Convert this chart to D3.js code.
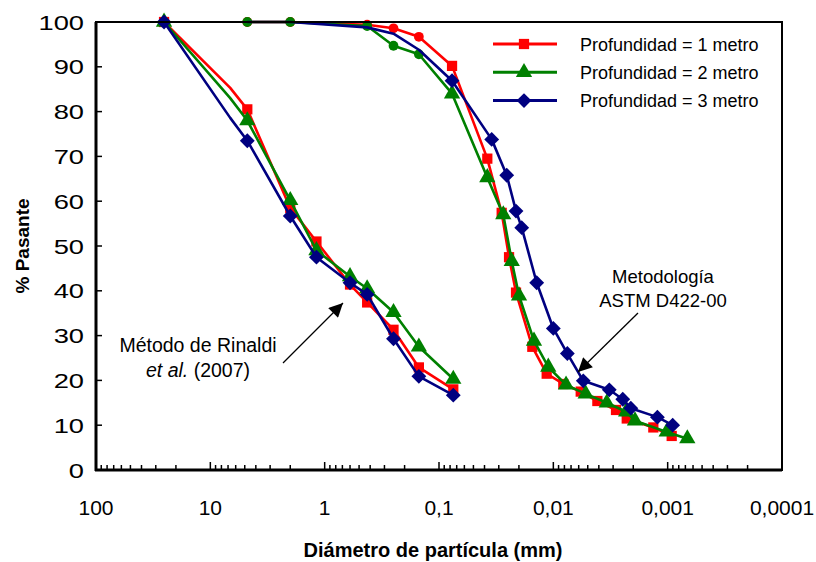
<!DOCTYPE html>
<html lang="es">
<head>
    <meta charset="utf-8">
    <style type="text/css">
        body { margin: 0; background: #fff; }
        text { font-family: Arial, "Liberation Sans", sans-serif; fill: #000; }
    </style>
</head>
<body>

<script src="https://d3js.org/d3.v7.min.js" type="text/javascript"></script>

<script type="text/javascript">
    // tick labels of the log axis (spanish decimal comma)
    var xTickValues = [100, 10, 1, 0.1, 0.01, 0.001, 0.0001];
    var xTickLabels = ["100", "10", "1", "0,1", "0,01", "0,001", "0,0001"];
    var yTickValues = [0, 10, 20, 30, 40, 50, 60, 70, 80, 90, 100];

    var seriesNames = ["Profundidad = 1 metro", "Profundidad = 2 metro", "Profundidad = 3 metro"];

    // Rinaldi et al. (2007) - sieve diameters (mm); 6.7 is a point without marker
    var rinaldiDiam  = [25.4, 6.7, 4.75, 2.0, 1.18, 0.6, 0.425, 0.25, 0.15, 0.075];
    var rinaldiShown = [true, false, true, true, true, true, true, true, true, true];
    var rinaldiP1 = [100, 85.3, 80.5, 58.5, 51.0, 41.4, 37.4, 31.3, 22.9, 18.0];
    var rinaldiP2 = [100, 83.0, 78.0, 60.2, 49.0, 43.2, 40.5, 35.2, 27.5, 20.3];
    var rinaldiP3 = [100, 78.6, 73.5, 56.7, 47.5, 41.8, 39.2, 29.3, 20.9, 16.7];

    // ASTM D422-00 - sieve part (circles), blue without marker
    var sieveDiam = [4.75, 2.0, 0.425, 0.25, 0.15];
    var sieveP1 = [100, 100, 99.4, 98.6, 96.7];
    var sieveP2 = [100, 100, 99.1, 94.7, 92.8];
    var sieveP3 = [100, 100, 98.8, 97.4, 93.8];

    // ASTM D422-00 - hydrometer part
    var hydroDiam1 = [0.0769, 0.0378, 0.0283, 0.0244, 0.0212, 0.01527, 0.01143, 0.00818, 0.00576, 0.00412, 0.00283, 0.00228, 0.001335, 0.000922];
    var hydroP1    = [90.2, 69.5, 57.4, 47.5, 39.6, 27.5, 21.5, 19.2, 17.5, 15.4, 13.4, 11.5, 9.5, 7.6];
    var hydroDiam2 = [0.0769, 0.0378, 0.0274, 0.0231, 0.01995, 0.01476, 0.01107, 0.00774, 0.00521, 0.00341, 0.00231, 0.00193, 0.00102, 0.000673];
    var hydroP2    = [84.0, 65.3, 57.0, 46.6, 38.9, 28.8, 23.0, 19.0, 17.0, 15.0, 13.0, 11.0, 8.5, 7.0];
    var hydroDiam3 = [0.0769, 0.0346, 0.02557, 0.0212, 0.0189, 0.01398, 0.0100, 0.00754, 0.00547, 0.00324, 0.00247, 0.0021, 0.00123, 0.000904];
    var hydroP3    = [86.9, 73.8, 65.8, 57.8, 54.1, 41.8, 31.6, 26.0, 19.9, 17.9, 15.8, 13.8, 11.8, 10.0];

    // square diamond (excel style), d3's own diamond is too narrow
    var squareDiamond = {
        draw: function (context, size) {
            var r = Math.sqrt(size / 2);
            context.moveTo(0, -r);
            context.lineTo(r, 0);
            context.lineTo(0, r);
            context.lineTo(-r, 0);
            context.closePath();
        }
    };

    var colors = ["#ff0000", "#008000", "#000080"];
    var symbols = [d3.symbolSquare, d3.symbolTriangle, squareDiamond];
    var symbolSizes = [105, 115, 110];

    var width = 816;
    var height = 562;
    var plot = { left: 96, right: 782, top: 22, bottom: 470 };

    var svg = d3.select("body").append("svg")
        .attr("width", width)
        .attr("height", height);

    svg.append("rect")
        .attr("width", width).attr("height", height).attr("fill", "white");

    var x = d3.scaleLog().domain([100, 0.0001]).range([plot.left, plot.right]);
    var y = d3.scaleLinear().domain([0, 100]).range([plot.bottom, plot.top]);

    svg.append("defs").append("marker")
        .attr("id", "arrowhead")
        .attr("viewBox", "0 -5 10 10")
        .attr("refX", 10).attr("refY", 0)
        .attr("orient", "auto")
        .attr("markerUnits", "userSpaceOnUse")
        .attr("markerWidth", 17).attr("markerHeight", 14)
        .append("path")
        .attr("d", "M 0,-5 L 10,0 L 0,5 Z")
        .attr("fill", "#000");

    // build point lists for each colour
    function zip(diam, vals, kind, shown) {
        return diam.map(function (d, i) {
            return { d: d, p: vals[i], kind: (shown && !shown[i]) ? "none" : kind };
        });
    }

    var rinaldi = [
        zip(rinaldiDiam, rinaldiP1, "sym", rinaldiShown),
        zip(rinaldiDiam, rinaldiP2, "sym", rinaldiShown),
        zip(rinaldiDiam, rinaldiP3, "sym", rinaldiShown)
    ];
    var astm = [
        zip(sieveDiam, sieveP1, "circle").concat(zip(hydroDiam1, hydroP1, "sym")),
        zip(sieveDiam, sieveP2, "circle").concat(zip(hydroDiam2, hydroP2, "sym")),
        zip(sieveDiam, sieveP3, "none").concat(zip(hydroDiam3, hydroP3, "sym"))
    ];

    var line = d3.line()
        .x(function (d) { return x(d.d); })
        .y(function (d) { return y(d.p); });

    var g = svg.append("g");

    function drawCurve(points, i) {
        g.append("path")
            .datum(points)
            .attr("d", line)
            .attr("fill", "none")
            .attr("stroke", colors[i])
            .attr("stroke-width", 2.6)
            .attr("stroke-linejoin", "round");

        g.selectAll(null)
            .data(points.filter(function (d) { return d.kind !== "none"; }))
            .enter()
            .append("path")
            .attr("transform", function (d) { return "translate(" + x(d.d) + "," + y(d.p) + ")"; })
            .attr("d", function (d) {
                if (d.kind === "circle") return d3.symbol().type(d3.symbolCircle).size(75)();
                return d3.symbol().type(symbols[i]).size(symbolSizes[i])();
            })
            .attr("fill", colors[i]);
    }

    for (var i = 0; i < 3; i++) {
        drawCurve(rinaldi[i], i);
        drawCurve(astm[i], i);
    }

    // frame
    svg.append("rect")
        .attr("x", plot.left).attr("y", plot.top)
        .attr("width", plot.right - plot.left).attr("height", plot.bottom - plot.top)
        .attr("fill", "none").attr("stroke", "#000").attr("stroke-width", 2);
    svg.append("line")
        .attr("x1", plot.left).attr("x2", plot.left)
        .attr("y1", plot.top).attr("y2", plot.bottom + 1)
        .attr("stroke", "#000").attr("stroke-width", 3);
    svg.append("line")
        .attr("x1", plot.left - 1).attr("x2", plot.right)
        .attr("y1", plot.bottom).attr("y2", plot.bottom)
        .attr("stroke", "#000").attr("stroke-width", 3);

    // x ticks (inside), minor ticks at 2..9 of each decade
    var minor = [];
    for (var e = -4; e < 2; e++) {
        for (var m = 2; m <= 9; m++) minor.push(m * Math.pow(10, e));
    }
    svg.append("g").selectAll("line")
        .data(minor)
        .enter().append("line")
        .attr("x1", function (d) { return x(d); }).attr("x2", function (d) { return x(d); })
        .attr("y1", plot.bottom).attr("y2", plot.bottom - 5)
        .attr("stroke", "#000").attr("stroke-width", 1.5);
    svg.append("g").selectAll("line")
        .data(xTickValues)
        .enter().append("line")
        .attr("x1", function (d) { return x(d); }).attr("x2", function (d) { return x(d); })
        .attr("y1", plot.bottom).attr("y2", plot.bottom - 8)
        .attr("stroke", "#000").attr("stroke-width", 1.5);

    svg.append("g").selectAll("text")
        .data(xTickValues)
        .enter().append("text")
        .attr("x", function (d) { return x(d); })
        .attr("y", 515)
        .attr("text-anchor", "middle")
        .attr("font-size", 21)
        .text(function (d, i) { return xTickLabels[i]; });

    // y ticks
    svg.append("g").selectAll("line")
        .data(yTickValues)
        .enter().append("line")
        .attr("x1", plot.left).attr("x2", plot.left + 6)
        .attr("y1", function (d) { return y(d); }).attr("y2", function (d) { return y(d); })
        .attr("stroke", "#000").attr("stroke-width", 1.5);

    // y labels are drawn a bit wider than the x labels in the original
    svg.append("g").selectAll("text")
        .data(yTickValues)
        .enter().append("text")
        .attr("transform", function (d) { return "translate(84," + (y(d) + 7.5) + ") scale(1.3,1)"; })
        .attr("text-anchor", "end")
        .attr("font-size", 21)
        .text(function (d) { return d; });

    // axis titles
    svg.append("text")
        .attr("x", 433)
        .attr("y", 557)
        .attr("text-anchor", "middle")
        .attr("font-size", 20)
        .attr("font-weight", "bold")
        .text("Diámetro de partícula (mm)");

    svg.append("text")
        .attr("transform", "translate(29," + (plot.top + plot.bottom) / 2 + ") rotate(-90)")
        .attr("text-anchor", "middle")
        .attr("font-size", 19)
        .attr("font-weight", "bold")
        .text("% Pasante");

    // legend
    var legend = svg.append("g").selectAll("g")
        .data(seriesNames)
        .enter().append("g")
        .attr("transform", function (d, i) { return "translate(0," + (44 + i * 28.3) + ")"; });

    legend.append("line")
        .attr("x1", 493).attr("x2", 557)
        .attr("stroke", function (d, i) { return colors[i]; })
        .attr("stroke-width", 3);
    legend.append("path")
        .attr("transform", "translate(524,0)")
        .attr("d", function (d, i) { return d3.symbol().type(symbols[i]).size(symbolSizes[i])(); })
        .attr("fill", function (d, i) { return colors[i]; });
    legend.append("text")
        .attr("x", 580).attr("y", 6.5)
        .attr("font-size", 18)
        .text(function (d) { return d; });

    // annotations
    var rin = svg.append("text")
        .attr("text-anchor", "middle")
        .attr("font-size", 19.5);
    rin.append("tspan").attr("x", 198).attr("y", 352).text("Método de Rinaldi");
    var rin2 = rin.append("tspan").attr("x", 198).attr("y", 377);
    rin2.append("tspan").attr("font-style", "italic").text("et al.");
    rin2.append("tspan").text(" (2007)");

    svg.append("line")
        .attr("x1", 283).attr("y1", 363)
        .attr("x2", 343).attr("y2", 303)
        .attr("stroke", "#000").attr("stroke-width", 1.3)
        .attr("marker-end", "url(#arrowhead)");

    var astmText = svg.append("text")
        .attr("text-anchor", "middle")
        .attr("font-size", 18.5);
    astmText.append("tspan").attr("x", 663).attr("y", 283).text("Metodología");
    astmText.append("tspan").attr("x", 663).attr("y", 306.5).text("ASTM D422-00");

    svg.append("line")
        .attr("x1", 638).attr("y1", 313)
        .attr("x2", 578).attr("y2", 372)
        .attr("stroke", "#000").attr("stroke-width", 1.3)
        .attr("marker-end", "url(#arrowhead)");
</script>

</body>
</html>
